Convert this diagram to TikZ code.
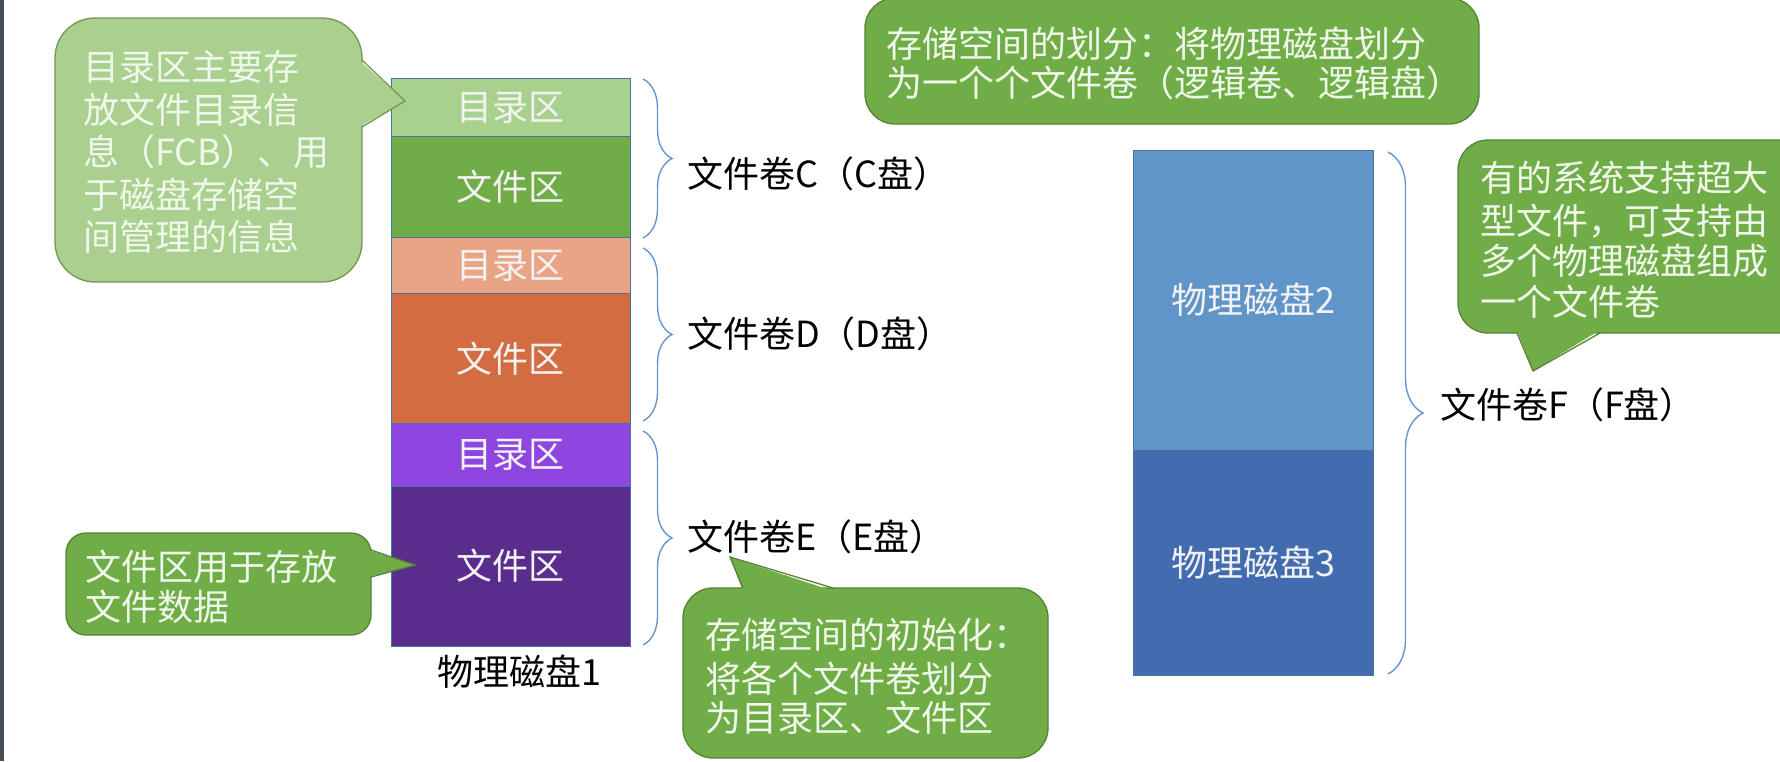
\documentclass[tikz,border=0pt]{standalone}
\usepackage{fontspec}
\setmainfont{Noto Sans CJK SC}
\usetikzlibrary{decorations.pathreplacing}
\definecolor{cdir}{RGB}{169,209,142}
\definecolor{cfile}{RGB}{112,173,71}
\definecolor{ddir}{RGB}{232,164,132}
\definecolor{dfile}{RGB}{212,108,66}
\definecolor{edir}{RGB}{143,69,224}
\definecolor{efile}{RGB}{90,45,140}
\definecolor{disktwo}{RGB}{95,149,200}
\definecolor{diskthree}{RGB}{66,107,176}
\definecolor{cellline}{RGB}{70,115,160}
\definecolor{celltext}{RGB}{242,242,242}
\definecolor{lgfill}{RGB}{169,208,142}
\definecolor{lgline}{RGB}{115,150,85}
\definecolor{gfill}{RGB}{112,173,71}
\definecolor{gline}{RGB}{85,130,55}
\definecolor{calltext}{RGB}{240,247,235}
\definecolor{bracecol}{RGB}{100,150,210}
\definecolor{stripgray}{RGB}{70,78,90}
\begin{document}
\begin{tikzpicture}[x=1pt,y=-1pt,
  cell/.style={draw=cellline, line width=1pt, minimum width=238.4pt, inner sep=0pt,
    text=celltext, font=\fontsize{36}{40}\selectfont},
  disk/.style={draw=cellline, line width=1pt, minimum width=240pt, inner sep=0pt,
    text=celltext, font=\fontsize{36}{40}\selectfont},
  lgcall/.style={fill=lgfill, draw=lgline, line width=1.3pt, inner sep=0pt},
  gcall/.style={fill=gfill, draw=gline, line width=1.3pt, inner sep=0pt},
  ctext/.style={anchor=base west, inner sep=0pt, text=calltext, font=\fontsize{36}{42}\selectfont},
  lbl/.style={anchor=base west, inner sep=0pt, text=black, font=\fontsize{36}{42}\selectfont},
  brc/.style={draw=bracecol, line width=1.4pt, decorate, decoration={brace, amplitude=29pt}},
  brcbig/.style={draw=bracecol, line width=1.4pt, decorate, decoration={brace, amplitude=35pt}}
]
\useasboundingbox (0,0) rectangle (1780,761);
\begin{scope}
\clip (0,0) rectangle (1780,761);
\fill[white] (0,0) rectangle (1780,761);
\fill[stripgray] (0,0) rectangle (4,761);

% physical disk 1
\node[cell, fill=cdir,  minimum height=57.7pt]  (cd) at (510.8,107.4) {目录区};
\node[cell, fill=cfile, minimum height=101pt]   (cf) at (510.8,186.8) {文件区};
\node[cell, fill=ddir,  minimum height=56.5pt]  (dd) at (510.8,265.5) {目录区};
\node[cell, fill=dfile, minimum height=129.5pt] (df) at (510.8,358.5) {文件区};
\node[cell, fill=edir,  minimum height=63pt]    (ed) at (510.8,454.5) {目录区};
\node[cell, fill=efile, minimum height=160pt]   (ef) at (510.8,566) {文件区};
\node[anchor=base, inner sep=0pt, font=\fontsize{36}{42}\selectfont] (d1) at (519,685) {物理磁盘1};

% braces and volume labels
\coordinate (bc1) at (643,79);  \coordinate (bc2) at (643,238);
\coordinate (bd1) at (643,248); \coordinate (bd2) at (643,421);
\coordinate (be1) at (643,431); \coordinate (be2) at (643,645);
\coordinate (bf1) at (1388,152); \coordinate (bf2) at (1388,674);
\draw[brc] (bc1) -- (bc2);
\draw[brc] (bd1) -- (bd2);
\draw[brc] (be1) -- (be2);
\draw[brcbig] (bf1) -- (bf2);
\node[lbl] (lc) at (687,187) {文件卷C（C盘）};
\node[lbl] (ld) at (687,347) {文件卷D（D盘）};
\node[lbl] (le) at (687,550) {文件卷E（E盘）};
\node[lbl] (lf) at (1440,418) {文件卷F（F盘）};

% physical disks 2 and 3
\node[disk, fill=disktwo,   minimum height=300pt] (d2) at (1253,300) {物理磁盘2};
\node[disk, fill=diskthree, minimum height=225pt] (d3) at (1253,562.5) {物理磁盘3};

% callout 1 (light green)
\node[lgcall, minimum width=307pt, minimum height=264pt, rounded corners=40pt] (k1) at (208.5,150) {};
\fill[lgfill] (359,60) -- (405,101) -- (359,127) -- cycle;
\draw[lgline, line width=1.3pt, line join=miter] (362,60) -- (405,101) -- (362,127);
\node[ctext] (k1a) at (83,80.8)  {目录区主要存};
\node[ctext] (k1b) at (83,123.3) {放文件目录信};
\node[ctext] (k1c) at (83,165.8) {息（FCB）、用};
\node[ctext] (k1d) at (83,208.3) {于磁盘存储空};
\node[ctext] (k1e) at (83,250.8) {间管理的信息};

% callout 2
\node[gcall, minimum width=305pt, minimum height=102pt, rounded corners=20pt] (k2) at (218.5,584) {};
\fill[gfill] (368,550) -- (415,565) -- (368,577) -- cycle;
\draw[gline, line width=1.3pt] (371,550) -- (415,565) -- (371,577);
\node[ctext] (k2a) at (85,580) {文件区用于存放};
\node[ctext] (k2b) at (85,620) {文件数据};

% callout 3
\node[gcall, minimum width=365pt, minimum height=170pt, rounded corners=30pt] (k3) at (865.5,673) {};
\fill[gfill] (743,591) -- (730,557) -- (833,591) -- cycle;
\draw[gline, line width=1.3pt] (743,588) -- (730,557) -- (833,588);
\node[ctext] (k3a) at (705,648) {存储空间的初始化：};
\node[ctext] (k3b) at (705,692) {将各个文件卷划分};
\node[ctext] (k3c) at (705,731) {为目录区、文件区};

% callout 4 (top)
\node[gcall, minimum width=614pt, minimum height=126pt, rounded corners=30pt] (k4) at (1172,61) {};
\node[ctext] (k4a) at (886,57) {存储空间的划分：将物理磁盘划分};
\node[ctext] (k4b) at (886,96) {为一个个文件卷（逻辑卷、逻辑盘）};

% callout 5
\node[gcall, minimum width=362pt, minimum height=193pt, rounded corners=30pt] (k5) at (1639,236.5) {};
\fill[gfill] (1517,330) -- (1533,371) -- (1600,330) -- cycle;
\draw[gline, line width=1.3pt] (1517,333) -- (1533,371) -- (1600,333);
\node[ctext] (k5a) at (1480,191) {有的系统支持超大};
\node[ctext] (k5b) at (1480,234) {型文件，可支持由};
\node[ctext] (k5c) at (1480,274) {多个物理磁盘组成};
\node[ctext] (k5d) at (1480,315) {一个文件卷};
\end{scope}
\end{tikzpicture}
\end{document}
